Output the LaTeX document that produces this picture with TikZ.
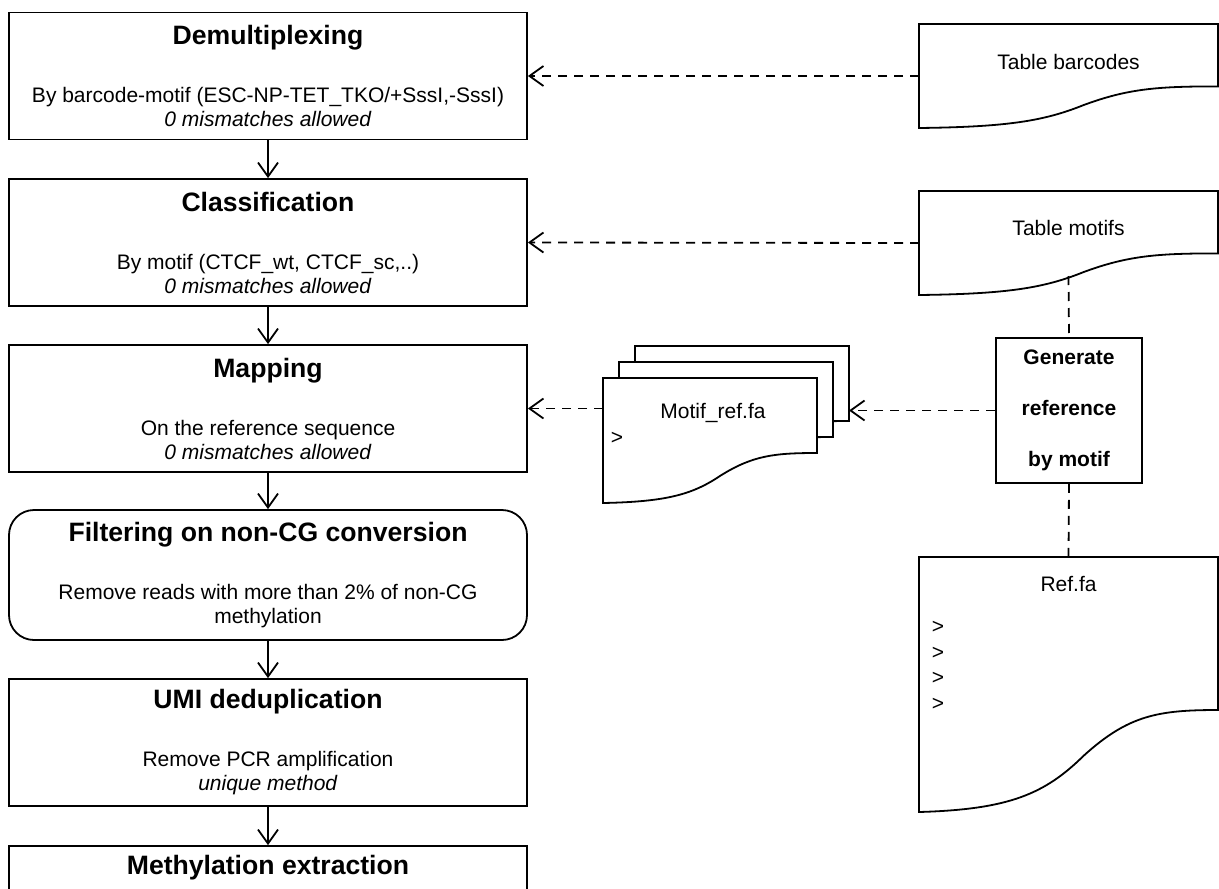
\documentclass[tikz,border=0pt]{standalone}
\usepackage{fontspec}
\setmainfont{Liberation Sans}
\usetikzlibrary{arrows.meta,backgrounds,calc}
\tikzset{
  pipeArrow/.style={-{Straight Barb[length=7pt,width=10pt]}, line width=0.9pt},
  pipeDashedArrow/.style={pipeArrow, dash pattern=on 4.5pt off 3.5pt},
  pipeDashedLink/.style={line width=0.9pt, dash pattern=on 4.5pt off 3.5pt},
  pipeDocLine/.style={draw, fill=white, line width=0.9pt}
}
\newcommand\stepTitle[1]{{\fontsize{13.3}{16}\selectfont\bfseries #1}}
\newcommand\docOutline[1]{%
  \path[pipeDocLine] let \p1=(#1.north west), \p2=(#1.south east),
      \n1={\x2-\x1}, \n2={\y1-\y2} in
    (\x1,\y1) -- (\x2,\y1) -- (\x2,\y1-0.6*\n2)
    .. controls (\x1+0.8*\n1,\y1-0.6*\n2) and (\x1+0.7*\n1,\y1-0.62*\n2) .. (\x1+0.55*\n1,\y1-0.78*\n2)
    .. controls (\x1+0.42*\n1,\y1-0.93*\n2) and (\x1+0.3*\n1,\y1-0.99*\n2) .. (\x1,\y2) -- cycle;}

\begin{document}
\begin{tikzpicture}[
        x=0.5pt, y=-0.5pt,
        stepbox/.style={draw, line width=0.9pt, minimum width=259pt, minimum height=63.5pt, align=center, font=\fontsize{10.5}{12}\selectfont, inner sep=0pt},
        filterbox/.style={stepbox, rounded corners=12.5pt, minimum height=65pt},
        genbox/.style={draw, line width=0.9pt, minimum width=73pt, minimum height=72.5pt, align=center, font=\fontsize{10.5}{25.5}\selectfont\bfseries, inner sep=0pt},
        docbox/.style={inner sep=0pt, outer sep=0pt},
        doctext/.style={font=\fontsize{10.5}{12.8}\selectfont, inner sep=0pt}
      ]
      \useasboundingbox (0,0) rectangle (1219,888);
      \clip (0,0) rectangle (1219,888);
      \node[stepbox] (demux) at (268,76) {\stepTitle{Demultiplexing}\\[17pt]By barcode-motif (ESC-NP-TET\_TKO/+SssI,-SssI)\\\textit{0 mismatches allowed}};
      \node[stepbox] (classif) at (268,242.5) {\stepTitle{Classification}\\[17pt]By motif (CTCF\_wt, CTCF\_sc,..)\\\textit{0 mismatches allowed}};
      \node[stepbox] (mapping) at (268,408.5) {\stepTitle{Mapping}\\[17pt]On the reference sequence\\\textit{0 mismatches allowed}};
      \node[filterbox] (filter) at (268,575) {\stepTitle{Filtering on non-CG conversion}\\[17pt]Remove reads with more than 2\% of non-CG\\methylation};
      \node[stepbox] (umi) at (268,742.5) {\stepTitle{UMI deduplication}\\[17pt]Remove PCR amplification\\\textit{unique method}};
      \node[stepbox] (methyl) at (268,909.5) {\stepTitle{Methylation extraction}\\[17pt]\strut\\\strut};
      \node[docbox, minimum width=149.5pt, minimum height=52pt] (barcodes) at (1068.5,76) {};
      \node[doctext] (barcodesTxt) at (1068.5,62) {Table barcodes};
      \node[docbox, minimum width=149.5pt, minimum height=52pt] (motifs) at (1068.5,243) {};
      \node[doctext] (motifsTxt) at (1068.5,228) {Table motifs};
      \node[docbox, minimum width=107pt, minimum height=62.5pt] (motifC) at (742,408.5) {};
      \node[docbox, minimum width=107pt, minimum height=62.5pt] (motifB) at (726,424.5) {};
      \node[docbox, minimum width=107pt, minimum height=62.5pt] (motifA) at (710,440.5) {};
      \node[doctext] (motifTxt) at (713,413) {Motif\_ref.fa};
      \node[doctext] (motifSeq) at (617,438) {>};
      \node[genbox] (gen) at (1069,410.5) {Generate\\reference\\by motif};
      \node[docbox, minimum width=149.5pt, minimum height=127.5pt] (refFa) at (1068.5,684.5) {};
      \node[doctext] (refTxt) at (1068.5,584) {Ref.fa};
      \node[doctext, align=left] (refSeq) at (938,666) {>\\>\\>\\>};
      \coordinate (motifsWave) at (1068.5,276);
      \begin{scope}[on background layer]
        \docOutline{barcodes}
        \docOutline{motifs}
        \docOutline{motifC}
        \docOutline{motifB}
        \docOutline{motifA}
        \docOutline{refFa}
      \end{scope}
      \draw[pipeArrow] (demux) -- (classif);
      \draw[pipeArrow] (classif) -- (mapping);
      \draw[pipeArrow] (mapping) -- (filter);
      \draw[pipeArrow] (filter) -- (umi);
      \draw[pipeArrow] (umi) -- (methyl);
      \draw[pipeDashedArrow] (barcodes.west) -- (demux.east);
      \draw[pipeDashedArrow] (motifs.west) -- (classif.east);
      \draw[pipeDashedLink] (motifsWave) -- (gen.north);
      \draw[pipeDashedLink] (gen.south) -- (refFa.north);
      \draw[pipeDashedArrow] (gen.west) -- (gen.west -| motifC.east);
      \draw[pipeDashedArrow] (motifA.west |- mapping.east) -- (mapping.east);
    \end{tikzpicture}
\end{document}
